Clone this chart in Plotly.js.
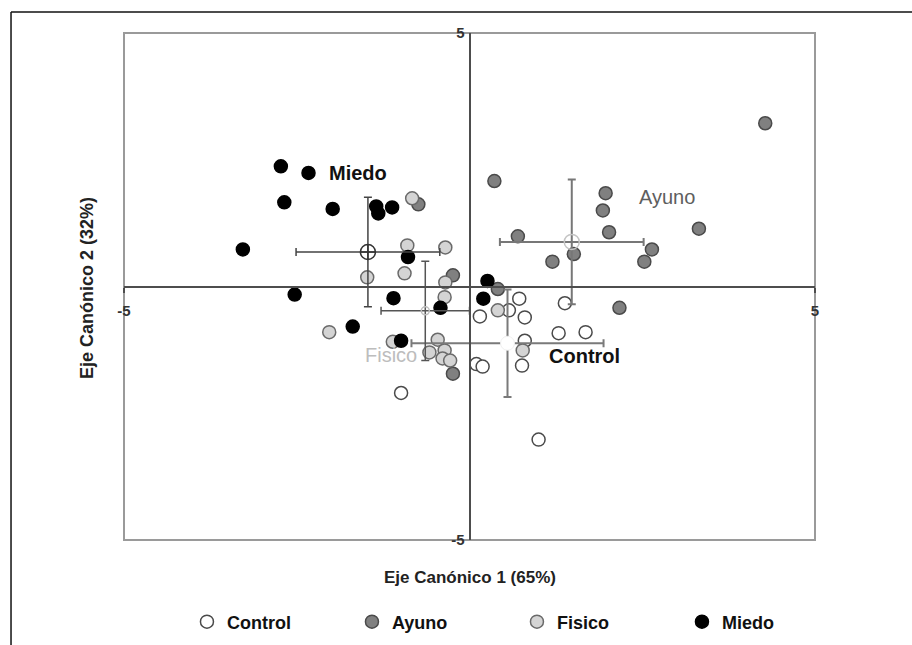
<!DOCTYPE html>
<html>
<head>
<meta charset="utf-8">
<script src="https://cdn.plot.ly/plotly-3.0.1.min.js"></script>
<style>html,body{margin:0;padding:0;background:#fff;}#chart{width:912px;height:645px;}</style>
</head>
<body>
<div id="chart"></div>
<script>
// Group names
const groups = ["Control", "Ayuno", "Fisico", "Miedo"];

// Individual scores (Eje Canónico 1, Eje Canónico 2)
const controlX = [0.72, 1.38, 0.57, 0.80, 0.15, 1.29, 1.68, 0.80, 0.76, 0.10, 0.19, 1.00, -0.99];
const controlY = [-0.24, -0.33, -0.47, -0.61, -0.59, -0.92, -0.90, -1.07, -1.56, -1.53, -1.58, -3.02, -2.10];

const ayunoX = [4.28, 0.36, 1.97, 1.93, 2.02, 3.32, 0.70, 2.64, 2.53, 1.51, 1.20, 2.17, 0.41, -0.24, -0.74, -0.24];
const ayunoY = [3.22, 2.08, 1.84, 1.50, 1.07, 1.14, 0.99, 0.73, 0.49, 0.64, 0.49, -0.42, -0.05, 0.22, 1.62, -1.72];

const fisicoX = [-0.83, -0.90, -0.35, -0.94, -1.48, -0.35, -0.36, -2.03, -1.11, -0.46, -0.58, -0.36, -0.39, -0.28, 0.41, 0.77];
const fisicoY = [1.74, 0.81, 0.77, 0.26, 0.18, 0.08, -0.21, -0.90, -1.09, -1.05, -1.30, -1.26, -1.42, -1.46, -0.47, -1.26];

const miedoX = [-2.73, -2.33, -2.68, -1.98, -1.35, -1.32, -1.12, -3.28, -2.53, -1.69, -1.10, -0.99, -0.42, 0.26, 0.20, -0.89];
const miedoY = [2.37, 2.24, 1.66, 1.53, 1.58, 1.44, 1.56, 0.73, -0.16, -0.79, -0.23, -1.07, -0.42, 0.11, -0.24, 0.58];

// Group centroids with their spread (order: Control, Ayuno, Fisico, Miedo)
const centroidX = [0.55, 1.48, -0.64, -1.47];
const centroidY = [-1.12, 0.88, -0.48, 0.68];
const centroidErrX = [1.39, 1.04, 0.64, 1.04];
const centroidErrY = [1.06, 1.23, 0.98, 1.08];

// Axis ticks
const tickValues = [-5, 5];
const tickLabels = ["-5", "5"];

const FONT = "Liberation Sans, Arial, Helvetica, sans-serif";

const pointStyles = [
  {color: "#ffffff", line: {color: "#4a4a4a", width: 1.5}},
  {color: "#808080", line: {color: "#4a4a4a", width: 1.5}},
  {color: "#d4d4d4", line: {color: "#6a6a6a", width: 1.5}},
  {color: "#000000", line: {color: "#000000", width: 1.5}}
];
const seriesX = [controlX, ayunoX, fisicoX, miedoX];
const seriesY = [controlY, ayunoY, fisicoY, miedoY];

const traces = groups.map((g, i) => ({
  type: "scatter", mode: "markers", name: g,
  x: seriesX[i], y: seriesY[i],
  marker: Object.assign({symbol: "circle", size: 13}, pointStyles[i]),
  hoverinfo: "x+y+name"
}));

const centroidStyles = [
  {marker: {symbol: "circle", size: 14, color: "#ffffff", line: {color: "#f0f0f0", width: 1}}, err: "#7a7a7a", th: 2},
  {marker: {symbol: "circle-open", size: 15, color: "#c4c4c4", line: {width: 1.5}}, err: "#777777", th: 2},
  {marker: {symbol: "circle-open", size: 8, color: "#bdbdbd", line: {width: 1.5}}, err: "#555555", th: 1.5},
  {marker: {symbol: "circle-cross-open", size: 15, color: "#333333", line: {width: 1.5}}, err: "#444444", th: 1.5}
];

groups.forEach((g, i) => {
  traces.push({
    type: "scatter", mode: "markers", name: g + " (centroide)", showlegend: false,
    x: [centroidX[i]], y: [centroidY[i]],
    marker: centroidStyles[i].marker,
    error_x: {type: "data", array: [centroidErrX[i]], visible: true, color: centroidStyles[i].err, thickness: centroidStyles[i].th, width: 4},
    error_y: {type: "data", array: [centroidErrY[i]], visible: true, color: centroidStyles[i].err, thickness: centroidStyles[i].th, width: 4}
  });
});

const axisCommon = {
  range: [-5, 5], tickvals: tickValues, ticktext: tickLabels,
  showgrid: false, zeroline: false, showline: true,
  linecolor: "#4d4d4d", linewidth: 2,
  anchor: "free", position: 0.5,
  ticks: "outside", ticklen: 5, tickcolor: "#4d4d4d", tickwidth: 1.5,
  tickfont: {family: FONT, size: 15, color: "#333333", weight: 700},
  fixedrange: true
};

const layout = {
  width: 912, height: 645,
  margin: {l: 124, r: 97, t: 33, b: 105, autoexpand: false},
  paper_bgcolor: "#ffffff", plot_bgcolor: "#ffffff",
  showlegend: true,
  xaxis: Object.assign({}, axisCommon, {domain: [0, 1], ticklabelstandoff: 5}),
  yaxis: Object.assign({}, axisCommon, {domain: [0, 1], ticks: "", ticklabelstandoff: 1}),
  legend: {
    orientation: "h", xref: "container", yref: "container",
    x: 0.205, xanchor: "left", y: 0.0357, yanchor: "middle",
    entrywidth: 120, entrywidthmode: "pixels", itemwidth: 30,
    font: {family: FONT, size: 18, color: "#111111", weight: 700},
    bgcolor: "rgba(0,0,0,0)"
  },
  shapes: [
    {type: "rect", xref: "paper", yref: "paper", x0: 0, x1: 1, y0: 0, y1: 1, line: {color: "#9a9a9a", width: 2}, layer: "below"},
    {type: "line", xref: "paper", yref: "paper", x0: -0.1635, x1: 1.2, y0: 1.0414, y1: 1.0414, line: {color: "#111111", width: 1.5}},
    {type: "line", xref: "paper", yref: "paper", x0: -0.1635, x1: -0.1635, y0: 1.0414, y1: -0.25, line: {color: "#111111", width: 1.5}}
  ],
  annotations: [
    {xref: "paper", yref: "paper", x: 0.5, y: -0.073, xanchor: "center", yanchor: "middle", showarrow: false,
     text: "Eje Canónico 1 (65%)", font: {family: FONT, size: 17, color: "#222222", weight: 700}},
    {xref: "paper", yref: "paper", x: -0.0535, y: 0.497, xanchor: "center", yanchor: "middle", showarrow: false,
     textangle: -90, text: "Eje Canónico 2 (32%)", font: {family: FONT, size: 18, color: "#222222", weight: 700}},
    {x: -1.62, y: 2.23, xref: "x", yref: "y", showarrow: false, text: "Miedo",
     font: {family: FONT, size: 20, color: "#111111", weight: 700}},
    {x: 2.865, y: 1.775, xref: "x", yref: "y", showarrow: false, text: "Ayuno",
     font: {family: FONT, size: 20, color: "#5e5e5e"}},
    {x: 1.664, y: -1.38, xref: "x", yref: "y", showarrow: false, text: "Control",
     font: {family: FONT, size: 20, color: "#111111", weight: 700}},
    {x: -1.129, y: -1.36, xref: "x", yref: "y", showarrow: false, text: "Fisico",
     font: {family: FONT, size: 20, color: "#bdbdbd"}}
  ]
};

Plotly.newPlot("chart", traces, layout, {displayModeBar: false, staticPlot: true});
</script>
</body>
</html>
